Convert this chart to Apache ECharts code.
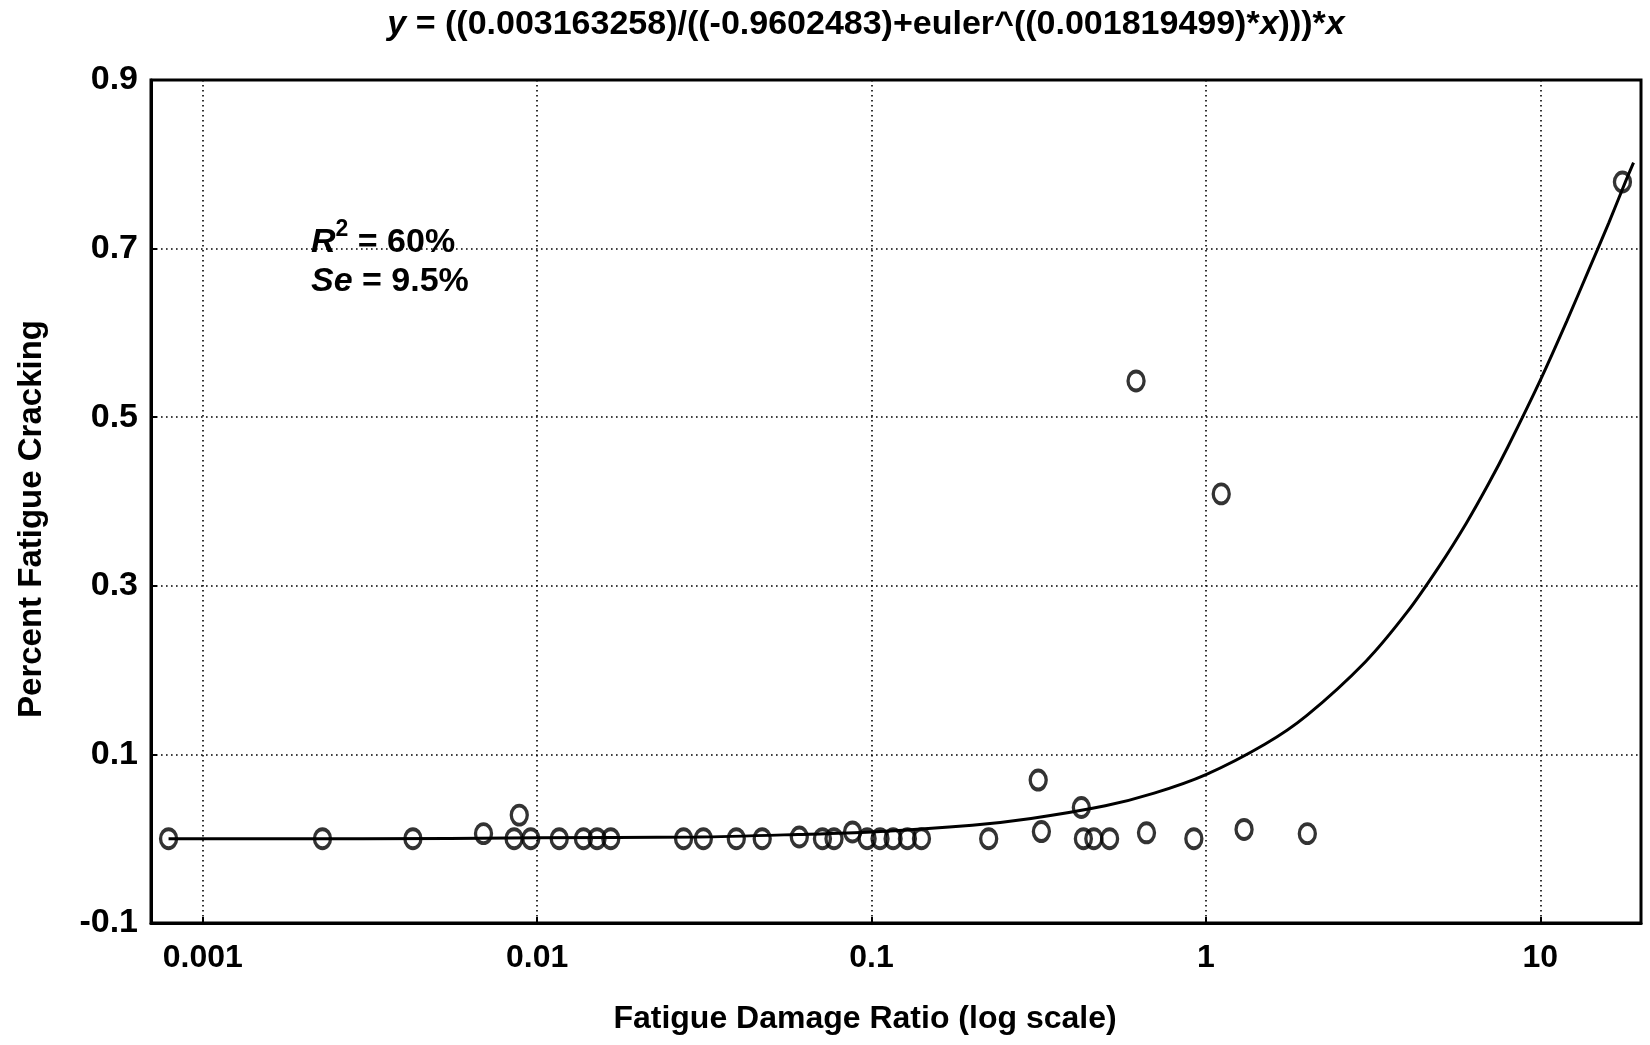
<!DOCTYPE html>
<html>
<head>
<meta charset="utf-8">
<script src="https://cdn.jsdelivr.net/npm/echarts@6/dist/echarts.min.js"></script>
<style>
html,body{margin:0;padding:0;background:#fff;}
#chart{width:1650px;height:1045px;}
</style>
</head>
<body>
<div id="chart"></div>
<script>
// Observed data (Fatigue Damage Ratio, Percent Fatigue Cracking)
const damageRatio = [0.00079, 0.00228, 0.00425, 0.00691, 0.00884, 0.00853, 0.00957, 0.01164, 0.01375, 0.0151, 0.0166,
  0.0274, 0.0314, 0.0394, 0.0471, 0.0608, 0.0713, 0.0772, 0.0877, 0.097, 0.106, 0.116, 0.128, 0.141,
  0.224, 0.315, 0.322, 0.424, 0.43, 0.462, 0.515, 0.618, 0.664, 0.92, 1.111, 1.30, 2.01, 17.6];
const fatigueCracking = [0, 0, 0, 0.006, 0.028, 0, 0, 0, 0, 0, 0,
  0, 0, 0, 0, 0.002, 0, 0, 0.008, 0, 0, 0, 0, 0,
  0, 0.0696, 0.0085, 0.037, 0, 0, 0, 0.543, 0.007, 0, 0.409, 0.011, 0.006, 0.779];

// Fitted curve
const curveX = [0.00079, 0.003, 0.01, 0.03, 0.06, 0.1, 0.2, 0.3, 0.5, 0.7, 1.0, 1.5, 2.0, 3.0, 4.0, 5.0, 6.0, 7.0, 8.0, 10.0, 12.0, 14.0, 16.0, 18.0, 19.0];
const curveY = [0.000, 0.000, 0.001, 0.002, 0.005, 0.008, 0.016, 0.024, 0.039, 0.054, 0.076, 0.112, 0.146, 0.210, 0.269, 0.324, 0.374, 0.421, 0.465, 0.544, 0.614, 0.676, 0.730, 0.780, 0.802];

const xMin = 0.0007, xMax = 20;
const yMin = -0.1, yMax = 0.9, yStep = 0.2;

const titleText = '{i|y} = ((0.003163258)/((-0.9602483)+euler^((0.001819499)*{i|x})))*{i|x}';
const xName = 'Fatigue Damage Ratio (log scale)';
const yName = 'Percent Fatigue Cracking';

const FONT = '"Liberation Sans", Arial, sans-serif';
const chart = echarts.init(document.getElementById('chart'), null, {renderer: 'canvas'});

const scatterData = damageRatio.map((x, i) => [x, fatigueCracking[i]]);
const curveData = curveX.map((x, i) => [x, curveY[i]]);

const dotted = {color: '#000', width: 1.6, type: [1.6, 3.4]};

chart.setOption({
  backgroundColor: '#fff',
  animation: false,
  grid: {left: 151, right: 9, top: 80, bottom: 122, show: true, borderColor: '#000', borderWidth: 3, backgroundColor: 'transparent'},
  xAxis: {
    type: 'log', logBase: 10, min: xMin, max: xMax,
    axisLine: {show: true, onZero: false, lineStyle: {color: '#000', width: 3}},
    axisTick: {show: true, inside: true, length: 6, lineStyle: {color: '#000', width: 2}},
    axisLabel: {show: true, showMinLabel: false, showMaxLabel: false, margin: 19, color: '#000',
      fontFamily: FONT, fontWeight: 'bold', fontSize: 32,
      formatter: v => String(+(+v).toPrecision(6))},
    splitLine: {show: true, lineStyle: dotted}
  },
  yAxis: {
    type: 'value', min: yMin, max: yMax, interval: yStep,
    axisLine: {show: true, onZero: false, lineStyle: {color: '#000', width: 3}},
    axisTick: {show: true, inside: true, length: 6, lineStyle: {color: '#000', width: 2}},
    axisLabel: {margin: 13, color: '#000', fontFamily: FONT, fontWeight: 'bold', fontSize: 34,
      formatter: v => (+v).toFixed(1)},
    splitLine: {show: true, lineStyle: dotted}
  },
  graphic: [
    {type: 'text', x: 866, y: 25, silent: true, style: {
      text: titleText, textAlign: 'center', textVerticalAlign: 'middle',
      font: 'bold 34px ' + FONT, fill: '#000',
      rich: {i: {fontStyle: 'italic', fontWeight: 'bold', fontSize: 34, fontFamily: FONT}}
    }},
    {type: 'text', x: 865, y: 1019, silent: true, style: {
      text: xName, textAlign: 'center', textVerticalAlign: 'middle',
      font: 'bold 32px ' + FONT, fill: '#000'
    }},
    {type: 'text', x: 32, y: 519, rotation: Math.PI / 2, silent: true, style: {
      text: yName, textAlign: 'center', textVerticalAlign: 'middle',
      font: 'bold 33px ' + FONT, fill: '#000'
    }},
    {type: 'text', x: 311, y: 243, silent: true, style: {
      text: '{i|R}{sup|2}{n| = 60%}', textAlign: 'left', textVerticalAlign: 'middle', fill: '#000',
      rich: {
        i: {fontStyle: 'italic', fontWeight: 'bold', fontSize: 34, fontFamily: FONT, fill: '#000'},
        sup: {fontWeight: 'bold', fontSize: 23, fontFamily: FONT, padding: [0, 0, 26, 0]},
        n: {fontWeight: 'bold', fontSize: 34, fontFamily: FONT}
      }
    }},
    {type: 'text', x: 311, y: 282, silent: true, style: {
      text: '{i|Se}{n| = 9.5%}', textAlign: 'left', textVerticalAlign: 'middle', fill: '#000',
      rich: {
        i: {fontStyle: 'italic', fontWeight: 'bold', fontSize: 34, fontFamily: FONT},
        n: {fontWeight: 'bold', fontSize: 34, fontFamily: FONT}
      }
    }}
  ],
  series: [
    {
      type: 'line', data: curveData, smooth: 0.3, showSymbol: false, symbol: 'none',
      lineStyle: {color: '#000', width: 3}, z: 2
    },
    {
      type: 'scatter', data: scatterData, symbol: 'circle', symbolSize: [16, 19],
      itemStyle: {color: 'rgba(0,0,0,0)', borderColor: '#000', borderWidth: 3.6}, z: 3
    }
  ]
});
</script>
</body>
</html>
